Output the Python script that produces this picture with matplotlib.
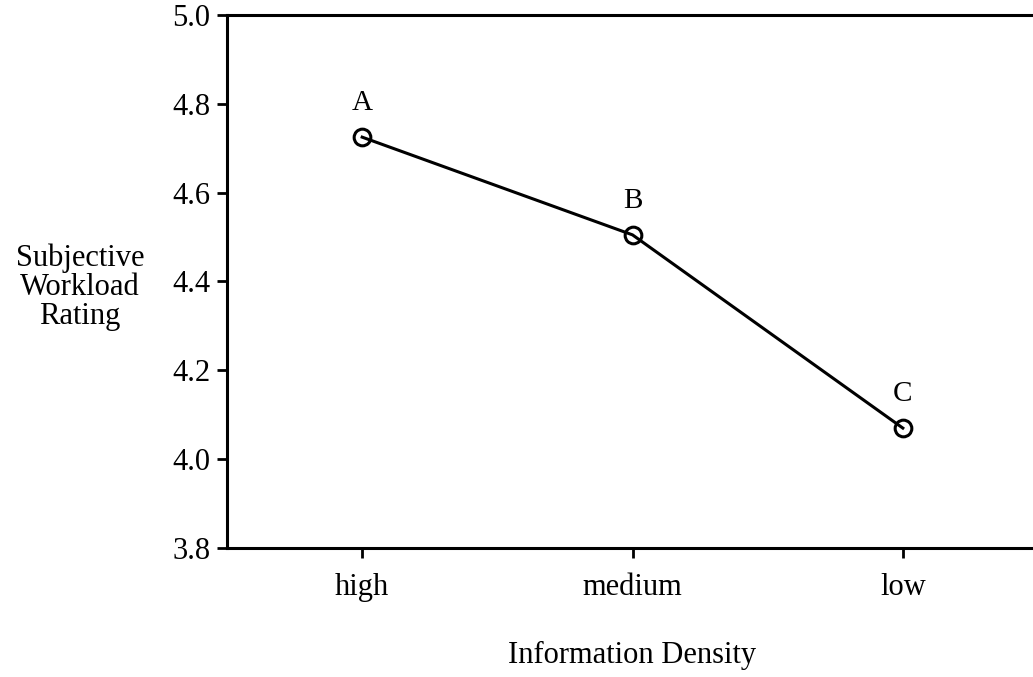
import numpy as np
import matplotlib.pyplot as plt

plt.rcParams['font.family'] = 'serif'
plt.rcParams['font.serif'] = ['Liberation Serif', 'DejaVu Serif']

categories = ['high', 'medium', 'low']
ratings = [4.725, 4.505, 4.07]
point_labels = ['A', 'B', 'C']
y_ticks = [3.8, 4.0, 4.2, 4.4, 4.6, 4.8, 5.0]

W, H = 1033, 677
fig = plt.figure(figsize=(W/100, H/100), dpi=100)
# axes box in pixels: left 227, right ~1038 (runs off the page), top 15, bottom 548
ax = fig.add_axes([227/W, 1-548/H, (1038-227)/W, (548-15)/H])

x = np.arange(len(categories))
ax.plot(x, ratings, color='black', lw=2.2, marker='o', markersize=12,
        markerfacecolor='none', markeredgecolor='black', markeredgewidth=2.2,
        clip_on=False)

for xi, yi, lab in zip(x, ratings, point_labels):
    ax.annotate(lab, (xi, yi), xytext=(0, 19.5), textcoords='offset points',
                ha='center', va='baseline', fontsize=21)

ax.set_xlim(-0.5, 2.5)
ax.set_ylim(3.8, 5.0)
ax.set_xticks(x)
ax.set_xticklabels(categories)
ax.set_yticks(y_ticks)
ax.set_yticklabels([f'{v:.1f}' for v in y_ticks])

ax.spines['right'].set_visible(False)
for s in ['left', 'top', 'bottom']:
    ax.spines[s].set_linewidth(2.2)

ax.tick_params(axis='both', direction='out', length=7, width=2, labelsize=22, pad=5)
ax.tick_params(axis='x', pad=11)

ax.set_xlabel('Information Density', fontsize=22, labelpad=28)
ax.set_ylabel('Subjective\nWorkload\nRating', fontsize=22, rotation=0,
              ha='center', va='center', linespacing=1.0)
ax.yaxis.set_label_coords(-0.181, 0.49)

fig.savefig('out.png', dpi=100)
